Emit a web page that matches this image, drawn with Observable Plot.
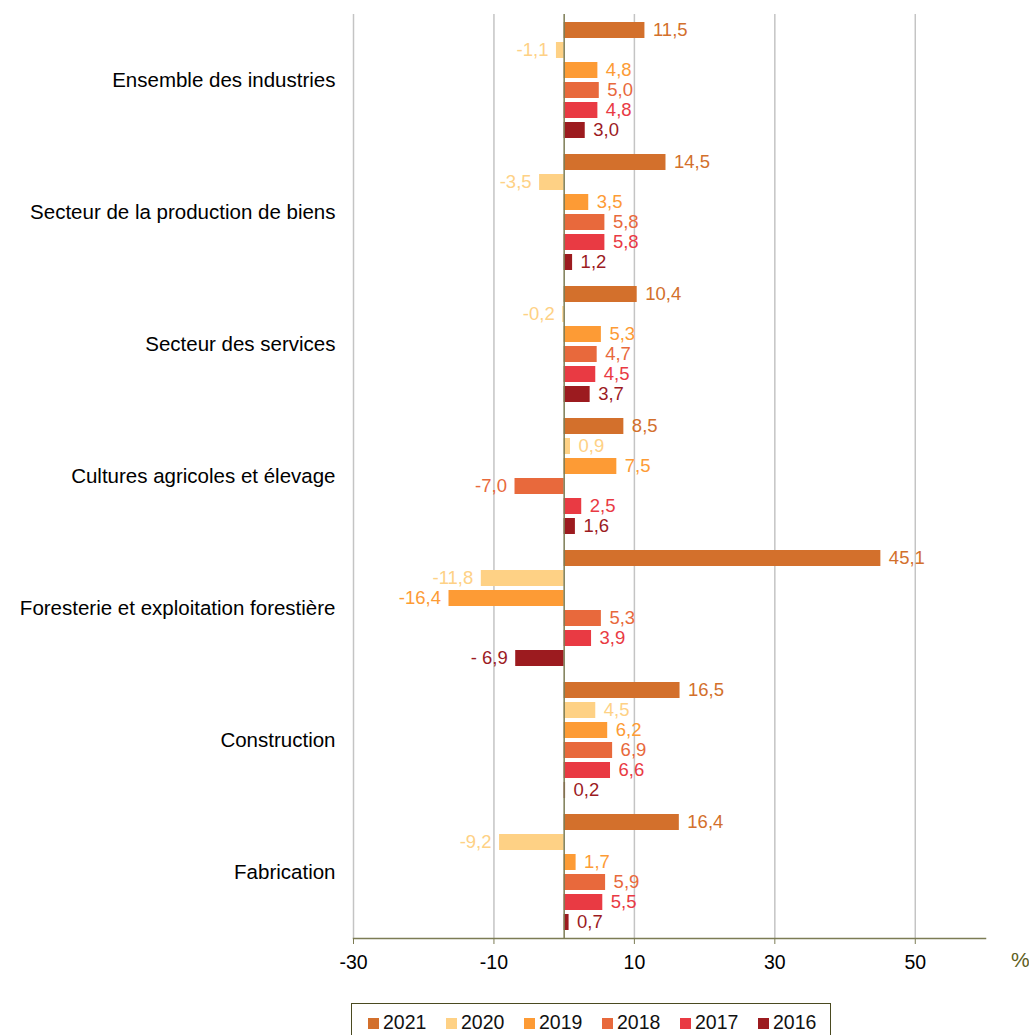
<!DOCTYPE html>
<html><head><meta charset="utf-8">
<script src="https://cdn.jsdelivr.net/npm/d3@7"></script>
<script src="https://cdn.jsdelivr.net/npm/@observablehq/plot@0.6"></script>
<style>
body{margin:0;background:#fff;font-family:"Liberation Sans",Arial,sans-serif;}
#wrap{position:relative;width:1029px;height:1035px;overflow:hidden;}
#pct{position:absolute;left:1011px;top:948px;font-size:21px;color:#5e5e22;}
#legend{position:absolute;left:351px;top:1003px;width:480px;height:40px;border:1.5px solid #4a4a20;box-sizing:border-box;display:flex;align-items:flex-start;padding:7px 0 0 16px;font-size:19.5px;color:#111;overflow:hidden;}
#legend .it{display:flex;align-items:center;width:78px;flex:0 0 78px;}
#legend .sw{width:11px;height:11px;margin-right:4px;margin-top:2px;}
</style></head>
<body><div id="wrap"><div id="chart"></div><div id="pct">%</div><div id="legend"></div></div>
<script>
const categories = ["Ensemble des industries","Secteur de la production de biens","Secteur des services","Cultures agricoles et élevage","Foresterie et exploitation forestière","Construction","Fabrication"];
const years = ["2021","2020","2019","2018","2017","2016"];
const colors = ["#D3702C","#FED185","#FD9B35","#E8693C","#E93A43","#9C1B1F"];
const v2021 = [11.5,14.5,10.4,8.5,45.1,16.5,16.4];
const v2020 = [-1.1,-3.5,-0.2,0.9,-11.8,4.5,-9.2];
const v2019 = [4.8,3.5,5.3,7.5,-16.4,6.2,1.7];
const v2018 = [5.0,5.8,4.7,-7.0,5.3,6.9,5.9];
const v2017 = [4.8,5.8,4.5,2.5,3.9,6.6,5.5];
const v2016 = [3.0,1.2,3.7,1.6,-6.9,0.2,0.7];
const xTicks = [-30,-10,10,30,50];
const labelOverrides = {"Foresterie et exploitation forestière|2016": "- 6,9"};

const series = [v2021,v2020,v2019,v2018,v2017,v2016];
const data = [];
categories.forEach((c,i)=>years.forEach((y,j)=>{
  const v = series[j][i];
  data.push({cat:c, year:y, v, label: labelOverrides[c+"|"+y] ?? v.toFixed(1).replace(".",",")});
}));

const olive = "#7c7c55";
const lastCat = categories[categories.length-1];
const chart = Plot.plot({
  width:1029, height:990,
  marginLeft:353, marginRight:44, marginTop:14, marginBottom:52,
  style:{fontFamily:"'Liberation Sans', Arial, sans-serif", background:"#fff"},
  x:{domain:[-30,60], axis:null},
  y:{domain:years, paddingInner:0.2, paddingOuter:0.4, axis:null},
  fy:{domain:categories, padding:0, axis:null},
  color:{domain:years, range:colors},
  marks:[
    Plot.ruleX(xTicks, {stroke:"#c4c4c4", strokeWidth:1.5}),
    Plot.barX(data, {x:"v", y:"year", fy:"cat", fill:"year"}),
    Plot.ruleX([0], {stroke:olive, strokeWidth:1.5}),
    Plot.text(data.filter(d=>d.v>=0), {x:"v", y:"year", fy:"cat", text:"label", fill:"year", textAnchor:"start", dx:8, fontSize:18.5}),
    Plot.text(data.filter(d=>d.v<0), {x:"v", y:"year", fy:"cat", text:"label", fill:"year", textAnchor:"end", dx:-8, fontSize:18.5}),
    Plot.axisFy({anchor:"left", tickSize:0, tickPadding:18, fontSize:20.5, label:null, fill:"#000"}),
    Plot.axisX(xTicks, {fy:xTicks.map(()=>lastCat), anchor:"bottom", tickSize:6, tickPadding:11, fontSize:19.5, stroke:olive, fill:"#000", label:null, tickFormat:d=>String(d)}),
    Plot.frame({anchor:"bottom", fy:[lastCat], stroke:olive, strokeWidth:1.5})
  ]
});
document.getElementById("chart").appendChild(chart);

const lg = document.getElementById("legend");
years.forEach((y,i)=>{
  const it = document.createElement("div"); it.className="it";
  it.innerHTML = `<span class="sw" style="background:${colors[i]}"></span><span>${y}</span>`;
  lg.appendChild(it);
});
</script></body></html>
